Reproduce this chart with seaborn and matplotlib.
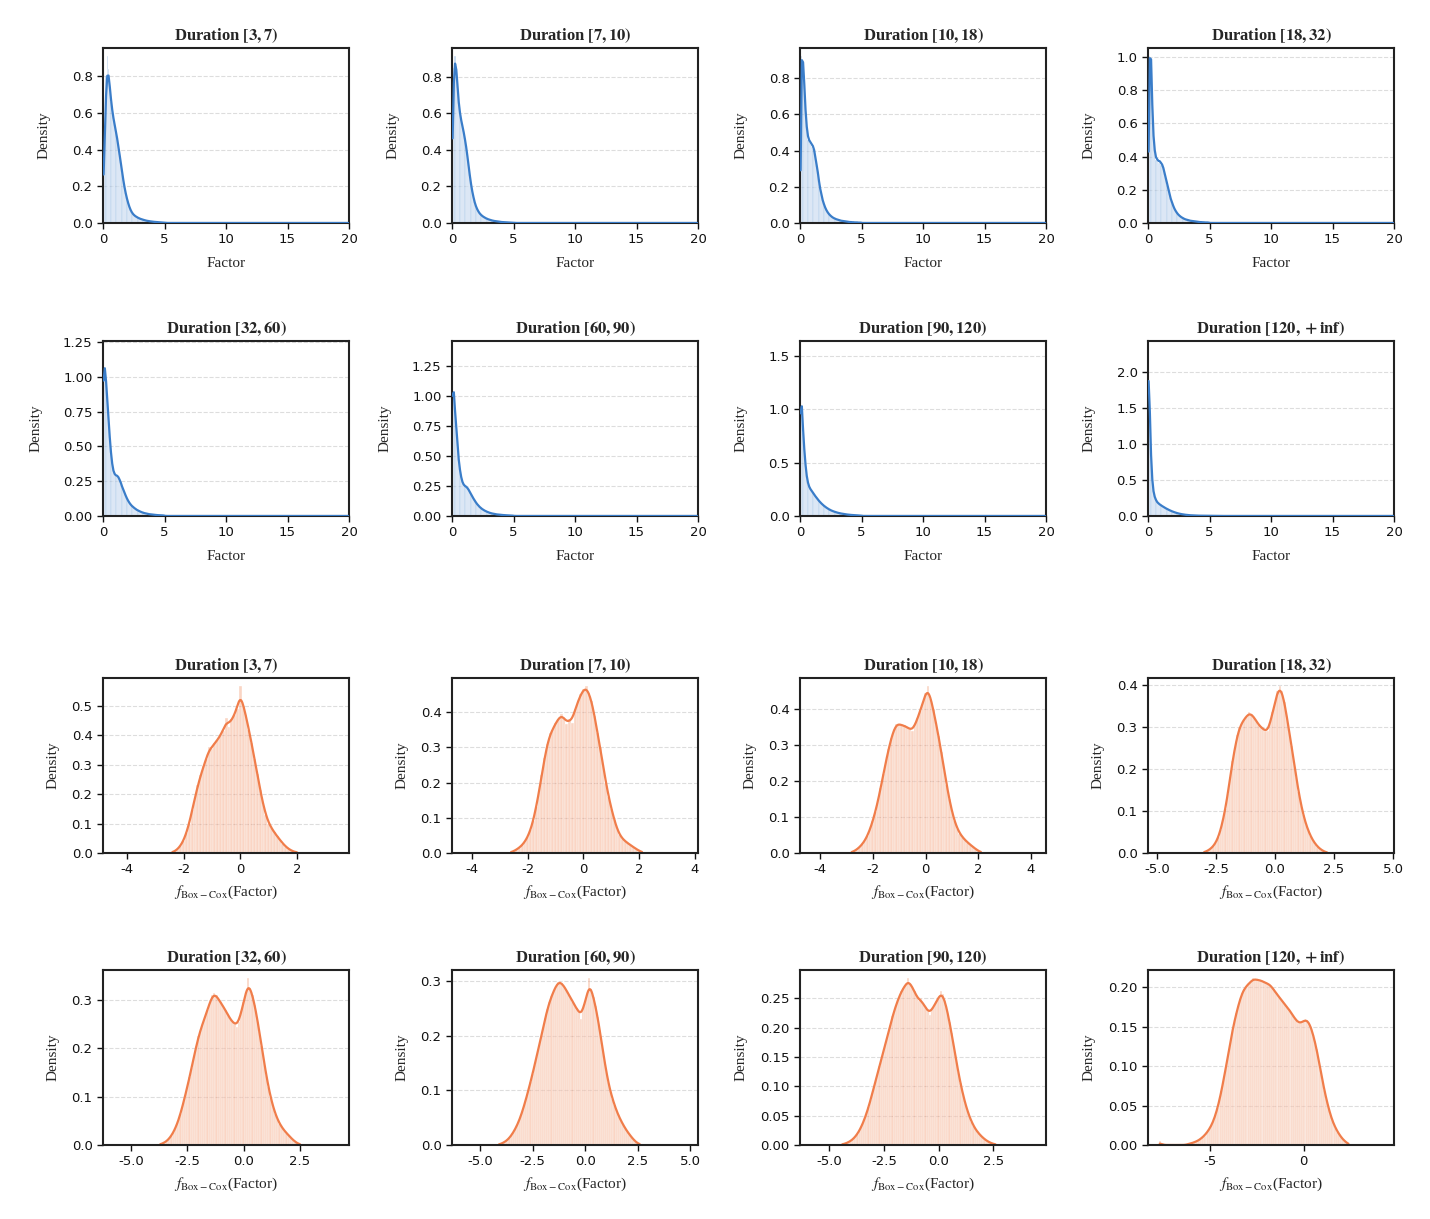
import numpy as np
import pandas as pd
import matplotlib
matplotlib.use("Agg")
import matplotlib.pyplot as plt
import seaborn as sns

# ---------------------------------------------------------------- data
durations = ["[3,7)", "[7,10)", "[10,18)", "[18,32)",
             "[32,60)", "[60,90)", "[90,120)", "[120,+inf)"]
bin_width = 0.1

# Factor density histograms, bins of 0.1 starting at 0
f_3_7 = [0.20, 0.50, 0.80, 0.91, 0.84, 0.74, 0.66, 0.61, 0.57, 0.53,
         0.50, 0.47, 0.42, 0.37, 0.33, 0.28, 0.23, 0.19, 0.16, 0.13,
         0.105, 0.085, 0.068, 0.055, 0.047, 0.041, 0.036, 0.032, 0.028, 0.025,
         0.022, 0.020, 0.018, 0.016, 0.014, 0.012, 0.011, 0.010, 0.009, 0.008,
         0.007, 0.006, 0.006, 0.005, 0.005, 0.004, 0.004, 0.003, 0.003, 0.003]
f_7_10 = [0.50, 0.85, 0.913, 0.86, 0.74, 0.65, 0.60, 0.56, 0.53, 0.50,
          0.46, 0.42, 0.37, 0.31, 0.26, 0.21, 0.17, 0.14, 0.11, 0.09,
          0.075, 0.062, 0.052, 0.045, 0.039, 0.034, 0.030, 0.026, 0.023, 0.020,
          0.018, 0.016, 0.014, 0.012, 0.011, 0.010, 0.009, 0.008, 0.007, 0.006,
          0.005, 0.005, 0.004, 0.004, 0.003, 0.003, 0.003, 0.002, 0.002, 0.002]
f_10_18 = [0.25, 0.92, 0.86, 0.74, 0.60, 0.51, 0.46, 0.44, 0.43, 0.42,
           0.41, 0.39, 0.35, 0.31, 0.27, 0.22, 0.18, 0.15, 0.12, 0.10,
           0.082, 0.068, 0.057, 0.048, 0.041, 0.035, 0.030, 0.026, 0.023, 0.020,
           0.018, 0.016, 0.014, 0.012, 0.011, 0.010, 0.009, 0.008, 0.007, 0.006,
           0.005, 0.005, 0.004, 0.004, 0.003, 0.003, 0.003, 0.002, 0.002, 0.002]
f_18_32 = [0.40, 1.004, 0.97, 0.68, 0.50, 0.42, 0.38, 0.37, 0.36, 0.36,
           0.35, 0.34, 0.32, 0.29, 0.26, 0.23, 0.20, 0.17, 0.14, 0.12,
           0.10, 0.083, 0.070, 0.059, 0.050, 0.043, 0.037, 0.032, 0.028, 0.024,
           0.021, 0.019, 0.017, 0.015, 0.013, 0.012, 0.011, 0.010, 0.009, 0.008,
           0.007, 0.006, 0.005, 0.005, 0.004, 0.004, 0.003, 0.003, 0.003, 0.002]
f_32_60 = [1.197, 1.05, 0.98, 0.82, 0.70, 0.56, 0.45, 0.37, 0.32, 0.30,
           0.29, 0.29, 0.28, 0.26, 0.24, 0.21, 0.19, 0.165, 0.145, 0.125,
           0.108, 0.094, 0.082, 0.072, 0.064, 0.057, 0.050, 0.044, 0.039, 0.035,
           0.031, 0.027, 0.024, 0.021, 0.019, 0.017, 0.015, 0.013, 0.012, 0.011,
           0.010, 0.009, 0.008, 0.007, 0.006, 0.006, 0.005, 0.005, 0.004, 0.004]
f_60_90 = [1.39, 0.98, 0.88, 0.74, 0.58, 0.46, 0.38, 0.32, 0.28, 0.26,
           0.25, 0.245, 0.235, 0.22, 0.20, 0.18, 0.16, 0.145, 0.128, 0.112,
           0.098, 0.086, 0.075, 0.066, 0.058, 0.051, 0.045, 0.040, 0.035, 0.031,
           0.027, 0.024, 0.021, 0.019, 0.017, 0.015, 0.013, 0.012, 0.011, 0.010,
           0.009, 0.008, 0.007, 0.006, 0.006, 0.005, 0.005, 0.004, 0.004, 0.003]
f_90_120 = [1.56, 1.00, 0.78, 0.62, 0.46, 0.36, 0.30, 0.27, 0.25, 0.235,
            0.22, 0.20, 0.185, 0.17, 0.155, 0.14, 0.128, 0.116, 0.105, 0.095,
            0.086, 0.078, 0.070, 0.063, 0.057, 0.051, 0.046, 0.042, 0.038, 0.034,
            0.031, 0.028, 0.025, 0.023, 0.021, 0.019, 0.017, 0.015, 0.014, 0.012,
            0.011, 0.010, 0.009, 0.008, 0.007, 0.007, 0.006, 0.005, 0.005, 0.004]
f_120_inf = [2.31, 1.40, 0.80, 0.48, 0.33, 0.26, 0.22, 0.19, 0.175, 0.16,
             0.148, 0.137, 0.126, 0.116, 0.106, 0.097, 0.088, 0.080, 0.072, 0.065,
             0.058, 0.052, 0.046, 0.041, 0.036, 0.032, 0.028, 0.025, 0.022, 0.019,
             0.017, 0.015, 0.013, 0.011, 0.010, 0.009, 0.008, 0.007, 0.006, 0.005,
             0.005, 0.004, 0.004, 0.003, 0.003, 0.003, 0.002, 0.002, 0.002, 0.002]
factor_hists = [f_3_7, f_7_10, f_10_18, f_18_32, f_32_60, f_60_90, f_90_120, f_120_inf]
factor_max = 20.0

# Box-Cox density histograms: centre of first bin, then bin densities (0.1 bins)
b_3_7 = [0.002, 0.006, 0.014, 0.025, 0.042, 0.068, 0.10, 0.145, 0.19, 0.23,
         0.265, 0.295, 0.32, 0.36, 0.355, 0.375, 0.385, 0.40, 0.415, 0.46,
         0.43, 0.455, 0.47, 0.49, 0.567, 0.50, 0.47, 0.42, 0.375, 0.32,
         0.27, 0.215, 0.165, 0.13, 0.10, 0.085, 0.07, 0.057, 0.045, 0.032,
         0.022, 0.014, 0.008, 0.004, 0.002]
b_7_10 = [0.002, 0.005, 0.010, 0.015, 0.022, 0.032, 0.045, 0.065, 0.09, 0.13,
          0.17, 0.22, 0.27, 0.31, 0.34, 0.35, 0.37, 0.38, 0.395, 0.385,
          0.365, 0.38, 0.37, 0.41, 0.43, 0.45, 0.465, 0.473, 0.455, 0.43,
          0.39, 0.34, 0.30, 0.25, 0.20, 0.16, 0.125, 0.095, 0.068, 0.05,
          0.04, 0.033, 0.027, 0.022, 0.016, 0.011, 0.006, 0.002]
b_10_18 = [0.002, 0.005, 0.010, 0.016, 0.024, 0.034, 0.048, 0.066, 0.088, 0.115,
           0.145, 0.18, 0.22, 0.255, 0.29, 0.32, 0.345, 0.36, 0.36, 0.355,
           0.355, 0.35, 0.345, 0.34, 0.355, 0.375, 0.395, 0.42, 0.445, 0.464,
           0.43, 0.40, 0.36, 0.325, 0.28, 0.235, 0.19, 0.15, 0.115, 0.088,
           0.068, 0.054, 0.044, 0.036, 0.029, 0.023, 0.017, 0.011, 0.006, 0.002]
b_18_32 = [0.002, 0.004, 0.007, 0.011, 0.017, 0.025, 0.037, 0.055, 0.078, 0.105,
           0.14, 0.18, 0.22, 0.25, 0.28, 0.30, 0.31, 0.32, 0.325, 0.335,
           0.33, 0.325, 0.315, 0.305, 0.30, 0.295, 0.29, 0.29, 0.31, 0.335,
           0.36, 0.385, 0.397, 0.385, 0.36, 0.325, 0.29, 0.255, 0.215, 0.18,
           0.145, 0.115, 0.09, 0.07, 0.054, 0.041, 0.03, 0.022, 0.015, 0.01,
           0.006, 0.003, 0.001]
b_32_60 = [0.001, 0.003, 0.005, 0.008, 0.013, 0.019, 0.027, 0.037, 0.049, 0.064,
           0.082, 0.10, 0.12, 0.14, 0.16, 0.185, 0.205, 0.225, 0.24, 0.255,
           0.265, 0.28, 0.295, 0.31, 0.315, 0.31, 0.30, 0.295, 0.285, 0.28,
           0.27, 0.26, 0.255, 0.25, 0.245, 0.255, 0.275, 0.295, 0.315, 0.345,
           0.325, 0.31, 0.29, 0.265, 0.235, 0.205, 0.175, 0.145, 0.12, 0.098,
           0.08, 0.065, 0.053, 0.044, 0.036, 0.03, 0.025, 0.02, 0.015, 0.01,
           0.006, 0.003, 0.001]
b_60_90 = [0.001, 0.002, 0.004, 0.006, 0.009, 0.013, 0.018, 0.024, 0.031, 0.039,
           0.048, 0.06, 0.072, 0.086, 0.10, 0.115, 0.13, 0.147, 0.163, 0.18,
           0.197, 0.215, 0.232, 0.248, 0.262, 0.272, 0.282, 0.29, 0.298, 0.30,
           0.296, 0.29, 0.285, 0.276, 0.27, 0.262, 0.255, 0.25, 0.245, 0.23,
           0.25, 0.26, 0.275, 0.305, 0.285, 0.27, 0.255, 0.235, 0.21, 0.185,
           0.16, 0.135, 0.115, 0.098, 0.085, 0.073, 0.062, 0.053, 0.045, 0.038,
           0.031, 0.025, 0.02, 0.015, 0.01, 0.006, 0.003, 0.001]
b_90_120 = [0.001, 0.002, 0.003, 0.005, 0.007, 0.01, 0.014, 0.019, 0.025, 0.033,
            0.042, 0.052, 0.064, 0.077, 0.092, 0.106, 0.12, 0.134, 0.148, 0.162,
            0.176, 0.19, 0.205, 0.22, 0.232, 0.243, 0.253, 0.262, 0.268, 0.272,
            0.284, 0.275, 0.27, 0.262, 0.252, 0.245, 0.25, 0.24, 0.235, 0.228,
            0.222, 0.232, 0.236, 0.245, 0.25, 0.262, 0.258, 0.245, 0.23, 0.21,
            0.19, 0.168, 0.145, 0.124, 0.105, 0.088, 0.073, 0.06, 0.049, 0.04,
            0.032, 0.026, 0.021, 0.017, 0.013, 0.01, 0.007, 0.005, 0.003, 0.002,
            0.001]
b_120_inf = [0.005, 0, 0, 0, 0, 0, 0, 0, 0, 0, 0, 0, 0, 0, 0,
             0.001, 0.002, 0.002, 0.003, 0.004, 0.005, 0.006, 0.008, 0.01, 0.012,
             0.015, 0.018, 0.022, 0.026, 0.032, 0.039, 0.047, 0.057, 0.068, 0.08,
             0.093, 0.106, 0.12, 0.134, 0.146, 0.157, 0.167, 0.176, 0.185, 0.192,
             0.197, 0.2, 0.203, 0.205, 0.207, 0.211, 0.209, 0.21, 0.208, 0.209,
             0.207, 0.206, 0.205, 0.204, 0.203, 0.2, 0.197, 0.193, 0.19, 0.187,
             0.184, 0.181, 0.178, 0.175, 0.172, 0.169, 0.165, 0.161, 0.158, 0.155,
             0.154, 0.155, 0.157, 0.159, 0.158, 0.155, 0.149, 0.141, 0.132, 0.121,
             0.109, 0.096, 0.083, 0.07, 0.06, 0.05, 0.041, 0.033, 0.027, 0.022,
             0.017, 0.014, 0.01, 0.007, 0.005, 0.003, 0.001]
boxcox_hists = [b_3_7, b_7_10, b_10_18, b_18_32, b_32_60, b_60_90, b_90_120, b_120_inf]
boxcox_first_centre = [-2.4, -2.6, -2.8, -3.0, -3.7, -4.1, -4.4, -7.7]

# ---------------------------------------------------------------- style
boxcox_xlims = [(-4.85, 3.84), (-4.72, 4.11), (-4.76, 4.57), (-5.38, 5.04),
                (-6.24, 4.68), (-6.34, 5.38), (-6.33, 4.91), (-8.33, 4.84)]
factor_bw = [0.12, 0.08, 0.045, 0.045, 0.06, 0.07, 0.09, 0.055]
boxcox_bw = [0.1, 0.1, 0.1, 0.1, 0.12, 0.12, 0.12, 0.12]
BLUE = "#3a7dc9"
ORANGE = "#f07d4a"
SERIF = ["Liberation Serif", "DejaVu Serif"]

sns.set_style("ticks")
plt.rcParams["font.family"] = ["DejaVu Sans"]
plt.rcParams["mathtext.fontset"] = "stix"
plt.rcParams["axes.unicode_minus"] = False
plt.rcParams["axes.edgecolor"] = "#222222"
plt.rcParams["axes.linewidth"] = 1.5

W, H = 1430, 1219
fig = plt.figure(figsize=(W / 100, H / 100), dpi=100)
col_left = [103, 452, 800, 1148]
row_top = [48, 341, 678, 970]
ax_w, ax_h = 246, 175


def make_ax(r, c):
    return fig.add_axes([col_left[c] / W, 1 - (row_top[r] + ax_h) / H, ax_w / W, ax_h / H])


def draw(ax, centres, heights, bw, color, line_z):
    centres = np.asarray(centres, dtype=float)
    heights = np.asarray(heights, dtype=float)
    edges = np.round(np.append(centres - bin_width / 2, centres[-1] + bin_width / 2), 6)
    std = np.sqrt(np.cov(centres, aweights=heights))
    df = pd.DataFrame({"x": centres, "w": heights})
    sns.histplot(data=df, x="x", weights="w", bins=edges.tolist(), stat="count", kde=True,
                 kde_kws={"bw_method": float(bw / std), "gridsize": 200},
                 color=color, alpha=0.32, edgecolor="white", linewidth=0.25,
                 line_kws={"linewidth": 1.6, "color": color, "zorder": line_z}, ax=ax)


def finish(ax, title, xlabel, xpad, ypad):
    ax.set_title("Duration " + r"$\mathbf{" + title + "}$", fontfamily=SERIF,
                 fontweight="bold", fontsize=12)
    ax.set_xlabel(xlabel, fontfamily=SERIF, fontsize=11, labelpad=xpad)
    ax.set_ylabel("Density", fontfamily=SERIF, fontsize=11, labelpad=ypad)
    ax.yaxis.grid(True, linestyle="--", color="#dddddd", linewidth=0.8)
    ax.set_axisbelow(True)
    ax.locator_params(axis="x", nbins=5)
    ax.locator_params(axis="y", nbins=6)
    ax.tick_params(axis="both", direction="out", length=4, width=1.0,
                   labelsize=9.5, colors="#111111")
    for s in ax.spines.values():
        s.set_visible(True)
        s.set_linewidth(1.5)
        s.set_color("#222222")


# Factor panels (rows 0-1)
n_factor_bins = int(round(factor_max / bin_width))
for i, (h, lab) in enumerate(zip(factor_hists, durations)):
    ax = make_ax(i // 4, i % 4)
    heights = np.concatenate([np.asarray(h, float), np.zeros(n_factor_bins - len(h))])
    centres = np.round(bin_width / 2 + bin_width * np.arange(n_factor_bins), 6)
    draw(ax, centres, heights, factor_bw[i], BLUE, 3)
    ax.set_xlim(0, factor_max)
    finish(ax, lab, "Factor", 7.5, 15)

# Box-Cox panels (rows 2-3)
for i, (h, lab) in enumerate(zip(boxcox_hists, durations)):
    ax = make_ax(2 + i // 4, i % 4)
    centres = np.round(boxcox_first_centre[i] + bin_width * np.arange(len(h)), 6)
    draw(ax, centres, h, boxcox_bw[i], ORANGE, 2)
    ax.set_xlim(*boxcox_xlims[i])
    finish(ax, lab, r"$f_{\mathrm{Box-Cox}}$(Factor)", 5.5, 9)

fig.savefig("out.png", dpi=100)
